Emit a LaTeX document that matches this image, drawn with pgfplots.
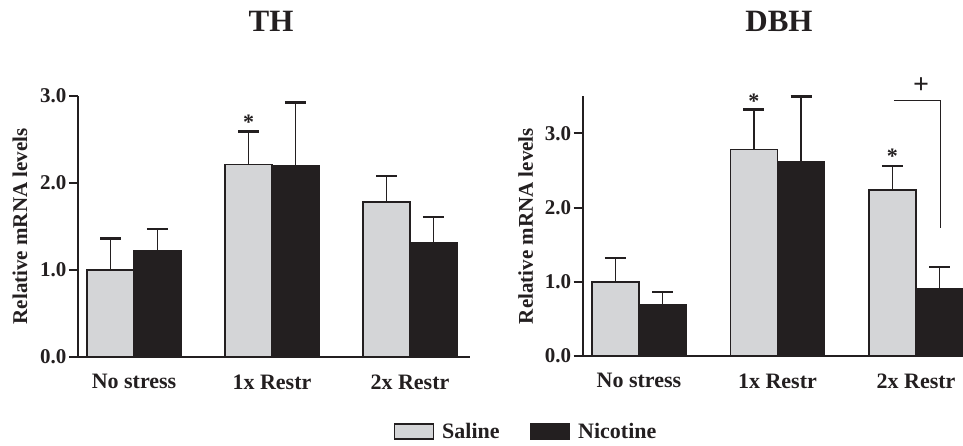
\documentclass[border=0pt]{standalone}
\usepackage{fontspec}
\setmainfont{Liberation Serif}
\usepackage{pgfplots}
\pgfplotsset{compat=1.18}
\usepackage{pgfplotstable}

\definecolor{sal}{HTML}{D4D5D7}
\definecolor{nic}{HTML}{231F20}
\definecolor{ink}{HTML}{231F20}

% TH
\pgfplotstableread{
x y e
-0.17 1.00 0.36
0.83 2.21 0.38
1.83 1.78 0.30
}\thsal
\pgfplotstableread{
x y e
0.17 1.22 0.25
1.17 2.20 0.72
2.17 1.31 0.30
}\thnic
% DBH
\pgfplotstableread{
x y e
-0.17 1.00 0.32
0.83 2.78 0.54
1.83 2.24 0.32
}\dbhsal
\pgfplotstableread{
x y e
0.17 0.69 0.17
1.17 2.62 0.88
2.17 0.90 0.30
}\dbhnic

\pgfplotsset{
  mybars/.style={
    scale only axis, clip=false,
    axis x line=bottom, axis y line=left,
    axis line style={-, line width=2pt, ink},
    ymin=0,
    xtick={0,1,2}, xticklabels={No stress, 1x Restr, 2x Restr},
    x tick style={draw=none},
    y tick style={line width=2pt, ink},
    major tick length=9pt, tick align=outside,
    /pgf/number format/.cd, fixed, fixed zerofill, precision=1, assume math mode=true, /pgfplots/.cd,
    tick label style={font=\fontsize{21}{25}\selectfont\bfseries, text=ink},
    yticklabel style={xshift=1pt},
    xticklabel style={yshift=-5pt, font=\fontsize{22}{26}\selectfont\bfseries},
    ylabel={Relative mRNA levels},
  },
  commonbar/.style={ybar, bar width=0.34, bar shift=0pt, draw=ink, line width=1.5pt,
    legend image code/.code={\draw[##1, line width=1.5pt, draw=ink] (0pt,-7pt) rectangle (39pt,8pt);},
    /pgfplots/error bars/y dir=plus, /pgfplots/error bars/y explicit,
    /pgfplots/error bars/error bar style={line width=1.8pt, ink},
    /pgfplots/error bars/error mark options={rotate=90, mark size=10.5pt, line width=2.5pt, ink}},
  salbar/.style={commonbar, fill=sal},
  nicbar/.style={commonbar, fill=nic},
}

\begin{document}
\begin{tikzpicture}
\useasboundingbox (0,0) rectangle (963pt,446pt);

\begin{axis}[mybars,
  at={(78pt,89pt)}, anchor=south west,
  width=392pt, height=261.3pt,
  xmin=-0.406, xmax=2.435, ymax=3.0,
  ytick={0,1,2,3},
  every axis y label/.style={at={(axis description cs:-0.148,0.5)}, rotate=90, anchor=center,
    font=\fontsize{21}{25}\selectfont\bfseries, text=ink},
  legend style={at={(axis description cs:1.143,-0.287)}, anchor=center, draw=none, fill=none,
    legend columns=2, font=\fontsize{22}{26}\selectfont\bfseries, text=ink,
    /tikz/every odd column/.append style={column sep=6pt},
    /tikz/every even column/.append style={column sep=28pt}},
]
\addplot[salbar] table[x=x, y=y, y error=e] {\thsal};
\addlegendentry{Saline}
\addplot[nicbar] table[x=x, y=y, y error=e] {\thnic};
\addlegendentry{Nicotine}
\node[font=\fontsize{22}{26}\selectfont\bfseries, text=ink] at (axis cs:0.83,2.70) {*};
\end{axis}

\begin{axis}[mybars,
  at={(582.7pt,90pt)}, anchor=south west,
  width=380.3pt, height=259.7pt,
  xmin=-0.406, xmax=2.339, ymax=3.5,
  ytick={0,1,2,3},
  every axis y label/.style={at={(axis description cs:-0.150,0.5)}, rotate=90, anchor=center,
    font=\fontsize{21}{25}\selectfont\bfseries, text=ink},
]
\addplot[salbar] table[x=x, y=y, y error=e] {\dbhsal};
\addplot[nicbar] table[x=x, y=y, y error=e] {\dbhnic};
\node[font=\fontsize{22}{26}\selectfont\bfseries, text=ink] at (axis cs:0.83,3.43) {*};
\node[font=\fontsize{22}{26}\selectfont\bfseries, text=ink] at (axis cs:1.83,2.69) {*};
\draw[line width=1pt, ink] (axis cs:1.84,3.44) -- (axis cs:2.18,3.44) -- (axis cs:2.18,1.72);
\node[font=\fontsize{28}{32}\selectfont\bfseries, text=ink] at (axis cs:2.036,3.64) {+};
\end{axis}

\node[font=\fontsize{31}{36}\selectfont\bfseries, text=ink] at (271pt,425pt) {TH};
\node[font=\fontsize{31}{36}\selectfont\bfseries, text=ink] at (779pt,425pt) {DBH};
\end{tikzpicture}
\end{document}
